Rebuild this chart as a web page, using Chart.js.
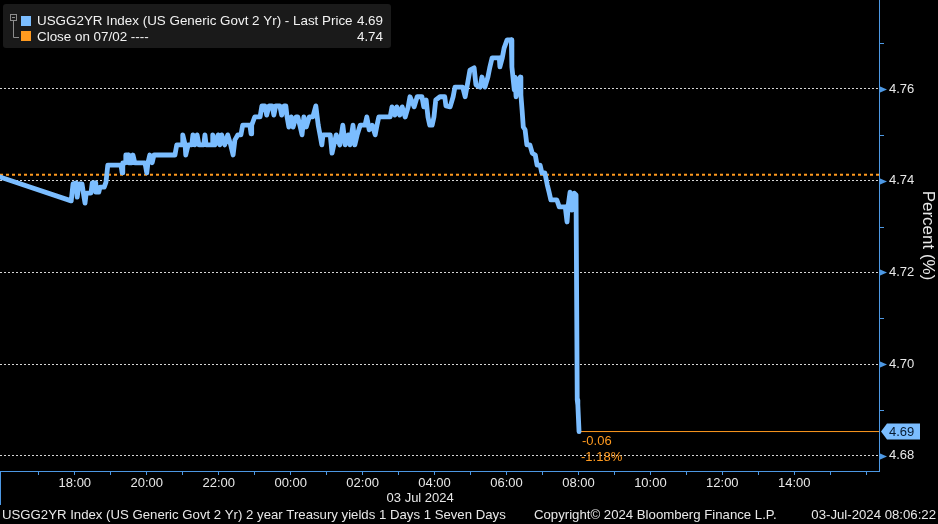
<!DOCTYPE html>
<html>
<head>
<meta charset="utf-8">
<script src="https://cdn.jsdelivr.net/npm/chart.js@4.4.0/dist/chart.umd.min.js"></script>
<style>
  html, body { margin: 0; padding: 0; background: #000; }
  #wrap { width: 938px; height: 524px; }
</style>
</head>
<body>
<div id="wrap"><canvas id="chart" width="938" height="524"></canvas></div>
<script>
// USGG2YR intraday, 2 Jul afternoon -> 3 Jul morning (NY time, "HH:MM")
const times = [
  '15:55','17:54','17:57','18:02','18:04','18:07','18:12','18:15','18:17','18:19',
  '18:27','18:29','18:34','18:35','18:40','18:42','18:49','18:52','18:55','19:17',
  '19:19','19:20','19:24','19:25','19:29','19:30','19:35','19:37','19:40','19:57',
  '20:00','20:02','20:05','20:09','20:12','20:17','20:47','20:50','20:59','21:00',
  '21:04','21:05','21:09','21:15','21:17','21:20','21:24','21:27','21:35','21:37',
  '21:39','21:49','21:50','21:54','21:59','22:02','22:05','22:10','22:15','22:20',
  '22:24','22:27','22:32','22:37','22:40','22:52','22:54','22:55','23:00','23:09',
  '23:12','23:17','23:20','23:24','23:29','23:32','23:35','23:42','23:45','23:49',
  '23:52','23:54','23:57','00:01','00:04','00:09','00:12','00:16','00:19','00:22',
  '00:26','00:31','00:37','00:42','00:46','00:49','00:52','00:54','01:06','01:09',
  '01:12','01:16','01:22','01:27','01:31','01:36','01:39','01:44','01:47','01:51',
  '01:56','02:04','02:07','02:11','02:16','02:21','02:24','02:27','02:46','02:49',
  '02:54','02:57','03:02','03:06','03:11','03:16','03:19','03:26','03:31','03:39',
  '03:42','03:46','03:49','03:52','03:56','03:59','04:02','04:09','04:17','04:19',
  '04:26','04:31','04:34','04:47','04:51','04:54','04:59','05:06','05:09','05:16',
  '05:19','05:24','05:29','05:32','05:36','05:48','05:49','05:53','05:56','06:01',
  '06:08','06:09','06:13','06:14','06:16','06:19','06:23','06:24','06:26','06:28',
  '06:31','06:34','06:39','06:43','06:48','06:51','06:56','06:59','07:04','07:08',
  '07:11','07:14','07:24','07:28','07:38','07:39','07:41','07:43','07:46','07:49',
  '07:53','07:56','07:58','07:59','08:01'
];
const yields = [
  4.7408,4.7356,4.7393,4.7395,4.7364,4.7393,4.7393,4.7367,4.7351,4.7373,
  4.7373,4.7395,4.7395,4.7375,4.7375,4.7386,4.7386,4.7397,4.7434,4.7434,
  4.7417,4.7439,4.7439,4.7456,4.7456,4.7439,4.7439,4.7456,4.7439,4.7439,
  4.7417,4.7439,4.7456,4.7439,4.7456,4.7456,4.7456,4.7478,4.7478,4.7500,
  4.7478,4.7456,4.7478,4.7478,4.7500,4.7478,4.7500,4.7478,4.7478,4.7500,
  4.7478,4.7478,4.7500,4.7478,4.7500,4.7478,4.7500,4.7478,4.7500,4.7478,
  4.7456,4.7489,4.7500,4.7500,4.7521,4.7521,4.7502,4.7521,4.7539,4.7539,
  4.7563,4.7563,4.7543,4.7563,4.7563,4.7543,4.7563,4.7563,4.7543,4.7563,
  4.7563,4.7539,4.7517,4.7539,4.7517,4.7539,4.7539,4.7517,4.7500,4.7539,
  4.7517,4.7539,4.7539,4.7563,4.7521,4.7500,4.7478,4.7500,4.7500,4.7460,
  4.7478,4.7500,4.7478,4.7521,4.7478,4.7500,4.7478,4.7521,4.7478,4.7500,
  4.7521,4.7521,4.7539,4.7511,4.7521,4.7500,4.7521,4.7539,4.7539,4.7561,
  4.7543,4.7561,4.7543,4.7561,4.7539,4.7561,4.7583,4.7561,4.7583,4.7583,
  4.7561,4.7576,4.7539,4.7521,4.7521,4.7539,4.7576,4.7583,4.7583,4.7563,
  4.7561,4.7583,4.7604,4.7604,4.7583,4.7604,4.7641,4.7646,4.7609,4.7604,
  4.7626,4.7604,4.7626,4.7646,4.7668,4.7668,4.7648,4.7668,4.7689,4.7707,
  4.7707,4.7648,4.7598,4.7626,4.7583,4.7620,4.7626,4.7587,4.7554,4.7517,
  4.7511,4.7478,4.7478,4.7460,4.7456,4.7434,4.7434,4.7417,4.7417,4.7391,
  4.7375,4.7358,4.7358,4.7343,4.7343,4.7332,4.7310,4.7347,4.7375,4.7336,
  4.7373,4.7369,4.6922,4.6911,4.6853
];
const prevClose = 4.7413;
const prevCloseDate = '07/02';
const seriesName = 'USGG2YR Index (US Generic Govt 2 Yr)';

// axes (hours relative to 00:00 on 3 Jul)
const xMin = -8.08, xMax = 16.355;
const yMin = 4.6767, yMax = 4.7794;
const xTickHours = [-7,-6,-5,-4,-3,-2,-1,0,1,2,3,4,5,6,7,8,9,10,11,12,13,14,15,16];
const xLabelHours = [-6,-4,-2,0,2,4,6,8,10,12,14];
const yTicks = [4.68,4.69,4.70,4.71,4.72,4.73,4.74,4.75,4.76,4.77];
const dayLabel = '03 Jul 2024';
const dayLabelHour = 3.6;
const footerLeft = 'USGG2YR Index (US Generic Govt 2 Yr) 2 year Treasury yields 1 Days 1 Seven Days';
const footerMid = 'Copyright\u00a9 2024 Bloomberg Finance L.P.';
const footerRight = '03-Jul-2024 08:06:22';

const axisBlue = '#4d98e3';
const lineBlue = '#7bbdff';
const orange = '#ff9a1f';
const font = '"Liberation Sans", Arial, sans-serif';

function toHours(t) {
  const [h, m] = t.split(':').map(Number);
  let v = h + m / 60;
  if (h >= 12) v -= 24; // previous day
  return v;
}
const isMajor = v => Math.round(v * 100) % 2 === 0;
const hh = v => String(((v % 24) + 24) % 24).padStart(2, '0') + ':00';

const points = times.map((t, i) => ({x: toHours(t), y: yields[i]}));
const last = yields[yields.length - 1];
const lastHour = toHours(times[times.length - 1]);
const chg = last - prevClose;
const lastText = last.toFixed(2);
const closeText = prevClose.toFixed(2);
const chgText = (chg < 0 ? '-' : '+') + Math.abs(chg).toFixed(2);
const pctText = (chg < 0 ? '-' : '+') + Math.abs(chg / prevClose * 100).toFixed(2) + '%';

const extras = {
  id: 'extras',
  afterDraw(chart) {
    const {ctx, chartArea: a, scales: {x, y}} = chart;
    ctx.save();

    // y axis tick markers
    ctx.fillStyle = axisBlue;
    ctx.strokeStyle = axisBlue;
    ctx.lineWidth = 1;
    yTicks.forEach(v => {
      const py = Math.round(y.getPixelForValue(v)) + 0.5;
      ctx.beginPath();
      if (isMajor(v)) {
        ctx.moveTo(a.right, py - 3.5);
        ctx.lineTo(a.right + 8, py);
        ctx.lineTo(a.right, py + 3.5);
        ctx.closePath();
        ctx.fill();
      } else {
        ctx.moveTo(a.right, py);
        ctx.lineTo(a.right + 5, py);
        ctx.stroke();
      }
    });

    // left edge of the time axis box
    ctx.beginPath();
    ctx.moveTo(0.5, a.bottom);
    ctx.lineTo(0.5, a.bottom + 34);
    ctx.stroke();

    // last price tag
    const ly = y.getPixelForValue(last);
    ctx.fillStyle = lineBlue;
    ctx.beginPath();
    ctx.moveTo(a.right + 2, ly);
    ctx.lineTo(a.right + 8, ly - 8);
    ctx.lineTo(a.right + 41, ly - 8);
    ctx.lineTo(a.right + 41, ly + 8);
    ctx.lineTo(a.right + 8, ly + 8);
    ctx.closePath();
    ctx.fill();
    ctx.fillStyle = '#061a30';
    ctx.font = '13px ' + font;
    ctx.textBaseline = 'middle';
    ctx.textAlign = 'left';
    ctx.fillText(lastText, a.right + 10, ly + 1);

    // change vs close
    const ex = x.getPixelForValue(lastHour);
    ctx.fillStyle = orange;
    ctx.fillText(chgText, ex + 3, ly + 10);
    ctx.fillText(pctText, ex + 2, ly + 26);

    // legend box
    ctx.fillStyle = '#1a1a1a';
    ctx.beginPath();
    ctx.roundRect(3, 4, 388, 44, 3);
    ctx.fill();
    ctx.strokeStyle = '#8c8c8c';
    ctx.strokeRect(10.5, 14.5, 6, 6);
    ctx.beginPath();
    ctx.moveTo(12, 17.5); ctx.lineTo(15, 17.5);
    ctx.moveTo(13.5, 21); ctx.lineTo(13.5, 37.5); ctx.lineTo(19, 37.5);
    ctx.stroke();
    ctx.fillStyle = lineBlue;
    ctx.fillRect(21, 16, 10, 10);
    ctx.fillStyle = orange;
    ctx.fillRect(21, 31, 10, 10);
    ctx.fillStyle = '#f2f2f2';
    ctx.font = '13.4px ' + font;
    ctx.fillText(seriesName + ' - Last Price', 37, 21);
    ctx.fillText('Close on ' + prevCloseDate + ' ----', 37, 37);
    ctx.textAlign = 'right';
    ctx.fillText(lastText, 383, 21);
    ctx.fillText(closeText, 383, 37);

    // day label under the time axis
    ctx.font = '13px ' + font;
    ctx.textAlign = 'center';
    ctx.fillStyle = '#e8e8e8';
    ctx.fillText(dayLabel, x.getPixelForValue(dayLabelHour), a.bottom + 27);

    // axis title
    ctx.save();
    ctx.translate(928, (a.top + a.bottom) / 2);
    ctx.rotate(Math.PI / 2);
    ctx.font = '17px ' + font;
    ctx.fillText('Percent (%)', 0, 0);
    ctx.restore();

    // footer
    ctx.font = '13.2px ' + font;
    ctx.fillStyle = '#e8e8e8';
    ctx.textAlign = 'left';
    ctx.fillText(footerLeft, 2, 515);
    ctx.fillText(footerMid, 534, 515);
    ctx.textAlign = 'right';
    ctx.fillText(footerRight, 936, 515);

    ctx.restore();
  }
};

new Chart(document.getElementById('chart'), {
  type: 'line',
  data: {
    datasets: [
      {
        data: points,
        borderColor: lineBlue,
        borderWidth: 4.8,
        pointRadius: 0,
        tension: 0,
        borderJoinStyle: 'round',
        borderCapStyle: 'round'
      },
      {
        data: [{x: xMin, y: prevClose}, {x: xMax, y: prevClose}],
        borderColor: orange,
        borderWidth: 2,
        borderDash: [3, 3],
        pointRadius: 0
      },
      {
        data: [{x: lastHour, y: last}, {x: xMax, y: last}],
        borderColor: orange,
        borderWidth: 1,
        pointRadius: 0
      }
    ]
  },
  options: {
    responsive: false,
    animation: false,
    devicePixelRatio: 1,
    layout: { padding: 0 },
    plugins: { legend: { display: false }, tooltip: { enabled: false } },
    scales: {
      x: {
        type: 'linear',
        min: xMin,
        max: xMax,
        afterBuildTicks: s => { s.ticks = xTickHours.map(v => ({value: v})); },
        afterFit: s => { s.height = 53; s.paddingLeft = 0; s.paddingRight = 0; },
        grid: { drawOnChartArea: false, drawTicks: true, tickLength: 4, color: axisBlue },
        border: { display: true, color: axisBlue },
        ticks: {
          autoSkip: false,
          maxRotation: 0,
          padding: 1,
          color: '#e8e8e8',
          font: { family: font, size: 13 },
          callback: v => xLabelHours.includes(v) ? hh(v) : ''
        }
      },
      y: {
        position: 'right',
        min: yMin,
        max: yMax,
        afterBuildTicks: s => { s.ticks = yTicks.map(v => ({value: v})); },
        afterFit: s => { s.width = 59; s.paddingTop = 0; s.paddingBottom = 0; },
        grid: {
          drawTicks: false,
          color: c => (c.tick && isMajor(c.tick.value)) ? '#d6d6d6' : 'rgba(0,0,0,0)'
        },
        border: { display: true, color: axisBlue, dash: [2, 2] },
        ticks: {
          padding: 10,
          color: '#e8e8e8',
          font: { family: font, size: 13 },
          callback: v => isMajor(v) ? v.toFixed(2) : ''
        }
      }
    }
  },
  plugins: [extras]
});
</script>
</body>
</html>
